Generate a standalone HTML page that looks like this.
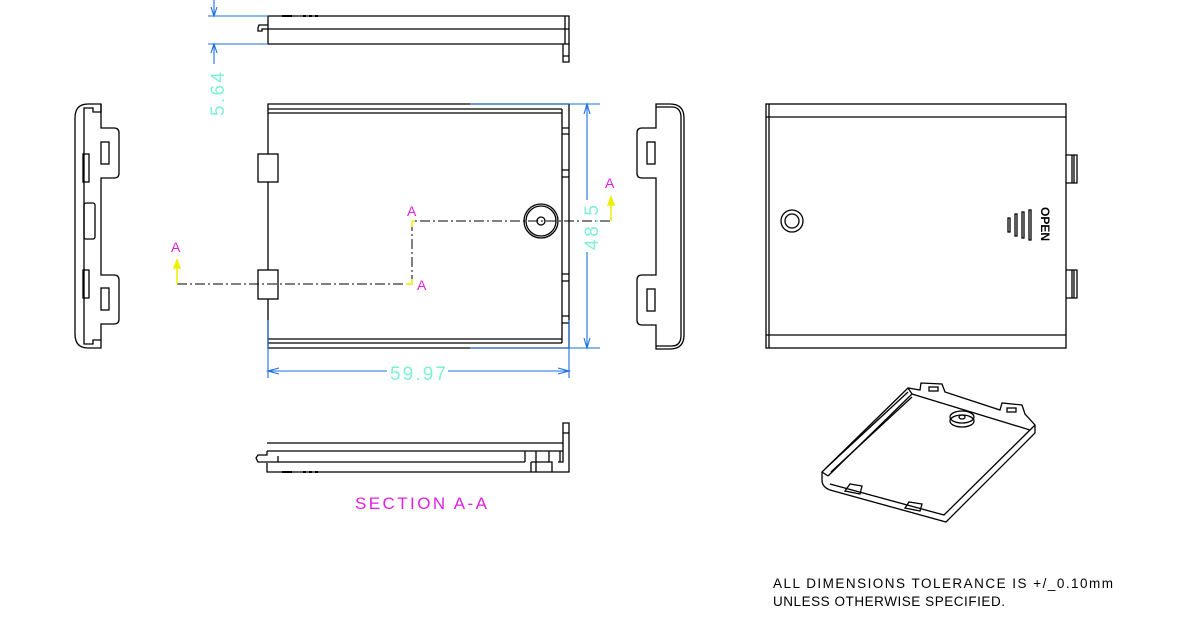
<!DOCTYPE html>
<html><head><meta charset="utf-8"><style>
html,body{margin:0;padding:0;background:#fff;}
svg{display:block;}
text{font-family:"Liberation Sans",sans-serif;}
</style></head><body>
<svg width="1192" height="621" viewBox="0 0 1192 621" xmlns="http://www.w3.org/2000/svg">
<g fill="none" stroke="#000" stroke-width="1.3">
<!-- top view -->
<path d="M268,16 L569,16 L569,44 L268,44 Z"/>
<line x1="268" y1="29" x2="569" y2="29"/>
<line x1="565" y1="16" x2="565" y2="44"/>
<path d="M563,44 L563,62 L569,62 L569,44 M563,56 L569,56"/>
<path d="M268,25 L259,25 L258,28 L258,31 L262,31 L262,29 L268,29"/>
<path d="M282,16 L292,16 M303,16 L306,16 M309,16 L312,16 M315,16 L318,16" stroke-width="2"/>
<!-- plan view -->
<path d="M268,104 L569,104 L569,348 L268,348 Z"/>
<line x1="268" y1="109" x2="562" y2="109"/>
<line x1="268" y1="113" x2="562" y2="113"/>
<line x1="268" y1="339" x2="562" y2="339"/>
<line x1="268" y1="343" x2="562" y2="343"/>
<line x1="562" y1="109" x2="562" y2="343"/>
<path d="M562,128 L569,128 M562,134 L569,134 M562,170 L569,170 M562,177 L569,177 M562,274 L569,274 M562,281 L569,281 M562,316 L569,316 M562,323 L569,323"/>
<rect x="258" y="154" width="20" height="28" fill="#fff"/>
<rect x="258" y="270" width="20" height="29" fill="#fff"/>
<circle cx="541" cy="221" r="17"/>
<circle cx="541" cy="221" r="15"/>
<circle cx="541" cy="221" r="4"/>
<!-- left side view -->
<path d="M101,104 L88,104 Q75,104 75,118 L75,334 Q75,348 88,348 L101,348 L101,324 L114,324 Q119,324 119,319 L119,280 Q119,275 114,275 L101,275 L101,178 L114,178 Q119,178 119,173 L119,133 Q119,128 114,128 L101,128 Z"/>
<path d="M101,104 L101,112 L93,112 L93,108 L84,108 L84,344 L93,344 L93,340 L101,340"/>
<rect x="101" y="142" width="8" height="22"/>
<rect x="101" y="288" width="8" height="22"/>
<rect x="83" y="154" width="6" height="28"/>
<rect x="84" y="203" width="11" height="36" rx="2"/>
<rect x="83" y="270" width="6" height="28"/>
<!-- right side view -->
<path d="M656,104 L670,104 Q684,104 684,118 L684,335 Q684,349 670,349 L656,349 L656,325 L642,325 Q637,325 637,320 L637,280 Q637,275 642,275 L656,275 L656,178 L642,178 Q637,178 637,173 L637,133 Q637,128 642,128 L656,128 Z"/>
<line x1="681" y1="116" x2="681" y2="337"/>
<path d="M656,107 L672,107 Q680,107 681,116 M656,346 L672,346 Q680,346 681,337"/>
<rect x="647" y="142" width="8" height="22"/>
<rect x="647" y="289" width="8" height="22"/>
<!-- right view -->
<rect x="766" y="104" width="300" height="244"/>
<line x1="769" y1="104" x2="769" y2="348"/>
<line x1="766" y1="117" x2="1066" y2="117"/>
<line x1="766" y1="335" x2="1066" y2="335"/>
<path d="M1066,155 L1077,155 L1077,183 L1066,183 M1072,155 L1072,183 M1074,155 L1074,183"/>
<path d="M1066,270 L1077,270 L1077,298 L1066,298 M1072,270 L1072,298 M1074,270 L1074,298"/>
<circle cx="792" cy="221" r="11"/>
<circle cx="792" cy="221" r="7"/>
<rect x="1008" y="218" width="2" height="14"/>
<rect x="1015" y="214" width="2" height="22"/>
<rect x="1022" y="212" width="2" height="26"/>
<rect x="1029" y="210" width="2" height="30"/>
<!-- section view -->
<path d="M267,443 L563,443 L563,423 L569,423 L569,472 L267,472 L267,463"/>
<line x1="267" y1="451" x2="563" y2="451"/>
<line x1="563" y1="433" x2="569" y2="433"/>
<path d="M267,451 L267,455 L258,455 L256,458 L258,462 L267,462 L278,462 L278,456"/>
<line x1="278" y1="462" x2="525" y2="462"/>
<path d="M525,451 L525,462 M536,451 L536,472 M549,451 L549,462 M560,451 L560,462 M531,462 L552,462 L552,472 M531,462 L531,472 M563,443 L563,462 L558,462"/>
<path d="M282,472 L292,472 M303,472 L306,472 M309,472 L312,472 M315,472 L318,472" stroke-width="2"/>
<!-- isometric -->
<path d="M822,472 L908,388 L920,390 L921,383 L942,384 L945,392 L1000,410 L1002,403 L1022,405 L1025,414 L1035,425 L1035,433 L946,522 L830,490 Q822,487 822,480 Z"/>
<path d="M828,476 L912,394 L1030,430 L944,515 L830,484"/>
<path d="M822,472 L828,476 M908,388 L912,394 M1035,425 L1030,430"/>
<path d="M826,468 L908,392 M831,472 L912,397"/>
<rect x="929" y="387" width="9" height="4"/>
<rect x="1007" y="408" width="9" height="4"/>
<ellipse cx="962" cy="421" rx="12" ry="6"/>
<ellipse cx="962" cy="417" rx="12" ry="6"/>
<ellipse cx="962" cy="417" rx="3" ry="2"/>
<path d="M845,491 L850,484 L862,486 L860,494 Z M905,508 L909,502 L922,504 L920,511 Z"/>
</g>
<!-- section line -->
<g fill="none" stroke="#000" stroke-width="1" stroke-dasharray="10,3,2,3">
<path d="M177,284 L412,284 L412,221 L611,221"/>
</g>
<g stroke="#ee0" stroke-width="1.5" fill="#ee0">
<line x1="177" y1="284" x2="177" y2="266"/><path d="M174,268 L177,260 L180,268 Z"/>
<line x1="611" y1="221" x2="611" y2="203"/><path d="M608,205 L611,197 L614,205 Z"/>
<path d="M412,221 L415,221 M412,221 L412,227 M412,284 L406,284 M412,284 L412,279" fill="none"/>
</g>
<g fill="#e020e0" font-size="14">
<text x="171" y="252">A</text>
<text x="407" y="216">A</text>
<text x="417" y="290">A</text>
<text x="605" y="188">A</text>
<text x="355" y="509" font-size="17" textLength="132" lengthAdjust="spacing">SECTION A-A</text>
</g>
<!-- dimensions -->
<g stroke="#1a6fe0" stroke-width="1.1" fill="none">
<line x1="208" y1="16" x2="268" y2="16"/>
<line x1="208" y1="44" x2="268" y2="44"/>
<line x1="214" y1="0" x2="214" y2="16"/>
<line x1="214" y1="44" x2="214" y2="64"/>
<path d="M211,7 L214,16 L217,7 M211,53 L214,44 L217,53"/>
<line x1="470" y1="104" x2="600" y2="104"/>
<line x1="470" y1="348" x2="600" y2="348"/>
<line x1="587" y1="104" x2="587" y2="200"/>
<line x1="587" y1="252" x2="587" y2="348"/>
<path d="M584,114 L587,104 L590,114 M584,338 L587,348 L590,338"/>
<line x1="268" y1="320" x2="268" y2="378"/>
<line x1="569" y1="320" x2="569" y2="378"/>
<line x1="268" y1="371" x2="387" y2="371"/>
<line x1="448" y1="371" x2="569" y2="371"/>
<path d="M279,368 L268,371 L279,374 M558,368 L569,371 L558,374"/>
</g>
<g fill="#7ff0d8" font-size="19">
<text x="390" y="380" textLength="56" lengthAdjust="spacing">59.97</text>
<text transform="translate(224,116) rotate(-90)" textLength="44" lengthAdjust="spacing">5.64</text>
<text transform="translate(598,250) rotate(-90)" textLength="45" lengthAdjust="spacing">48.5</text>
</g>
<text transform="translate(1041,207) rotate(90)" font-size="12" font-weight="bold" fill="#000">OPEN</text>
<g fill="#000" font-size="13.5">
<text x="773" y="588" textLength="340" lengthAdjust="spacing">ALL DIMENSIONS TOLERANCE IS +/_0.10mm</text>
<text x="773" y="606" textLength="232" lengthAdjust="spacing">UNLESS OTHERWISE SPECIFIED.</text>
</g>
</svg>
</body></html>
